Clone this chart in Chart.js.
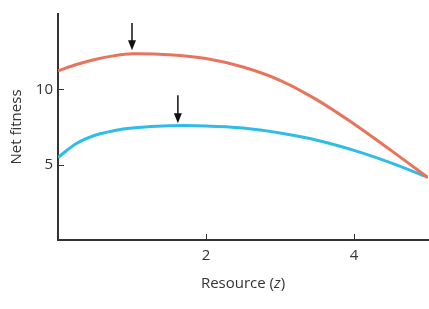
<!DOCTYPE html>
<html>
<head>
<meta charset="utf-8">
<script src="https://cdn.jsdelivr.net/npm/chart.js@4"></script>
<style>
  body { margin: 0; background: #fff; }
  #wrap { width: 429px; height: 309px; }
</style>
</head>
<body>
<div id="wrap"><canvas id="fitness-chart"></canvas></div>
<script>
// Data
const resource = [0, 0.25, 0.5, 0.75, 1, 1.5, 2, 2.5, 3, 3.5, 4, 4.5, 5];
const fitnessHigh = [11.23, 11.65, 11.98, 12.22, 12.36, 12.3, 12.05, 11.48, 10.6, 9.3, 7.7, 5.95, 4.14];
const fitnessLow = [5.48, 6.4, 6.95, 7.25, 7.43, 7.58, 7.57, 7.43, 7.1, 6.62, 5.95, 5.12, 4.16];
const xTicks = [2, 4];
const yTicks = [5, 10];
// Arrows marking the optimum of each curve
const arrowX = [1.0, 1.62];
const arrowTop = [14.4, 9.6];
const arrowTip = [12.6, 7.75];

const ink = '#333333';
const font = '"Open Sans", "Lato", sans-serif';

function toPoints(ys) {
    return resource.map((x, i) => ({ x: x, y: ys[i] }));
}

// Inside ticks, arrows and the x axis title
const extras = {
    id: 'extras',
    afterDraw(c) {
        const ctx = c.ctx;
        const xs = c.scales.x, ys = c.scales.y;
        const area = c.chartArea;
        ctx.save();
        ctx.strokeStyle = ink;
        ctx.lineWidth = 1;
        xTicks.forEach(v => {
            const px = Math.round(xs.getPixelForValue(v)) + 0.5;
            ctx.beginPath();
            ctx.moveTo(px, area.bottom);
            ctx.lineTo(px, area.bottom - 6);
            ctx.stroke();
        });
        yTicks.forEach(v => {
            const py = Math.round(ys.getPixelForValue(v)) + 0.5;
            ctx.beginPath();
            ctx.moveTo(area.left, py);
            ctx.lineTo(area.left + 6, py);
            ctx.stroke();
        });

        // arrows
        ctx.fillStyle = '#111';
        ctx.strokeStyle = '#111';
        ctx.lineWidth = 1.5;
        arrowX.forEach((v, i) => {
            const px = xs.getPixelForValue(v);
            const top = ys.getPixelForValue(arrowTop[i]);
            const tip = ys.getPixelForValue(arrowTip[i]);
            ctx.beginPath();
            ctx.moveTo(px, top);
            ctx.lineTo(px, tip - 8);
            ctx.stroke();
            ctx.beginPath();
            ctx.moveTo(px - 4, tip - 10);
            ctx.lineTo(px + 4, tip - 10);
            ctx.lineTo(px, tip);
            ctx.closePath();
            ctx.fill();
        });

        // x title with italic z
        const parts = [['Resource (', 'normal'], ['z', 'italic'], [')', 'normal']];
        let total = 0;
        parts.forEach(p => {
            ctx.font = p[1] + ' 15px ' + font;
            total += ctx.measureText(p[0]).width;
        });
        let x = (area.left + area.right) / 2 - total / 2;
        ctx.fillStyle = ink;
        ctx.textBaseline = 'middle';
        parts.forEach(p => {
            ctx.font = p[1] + ' 15px ' + font;
            ctx.fillText(p[0], x, 284);
            x += ctx.measureText(p[0]).width;
        });
        ctx.restore();
    }
};

new Chart(document.getElementById('fitness-chart').getContext('2d'), {
    type: 'line',
    data: {
        datasets: [{
            data: toPoints(fitnessHigh),
            borderColor: '#E8755B',
            borderWidth: 3,
            pointRadius: 0,
            tension: 0.35
        }, {
            data: toPoints(fitnessLow),
            borderColor: '#2FBDE8',
            borderWidth: 3,
            pointRadius: 0,
            tension: 0.35
        }]
    },
    options: {
        responsive: true,
        maintainAspectRatio: false,
        animation: false,
        layout: { padding: { top: 12, right: 1, left: 0, bottom: 0 } },
        plugins: {
            legend: { display: false },
            tooltip: { enabled: false }
        },
        scales: {
            x: {
                type: 'linear',
                min: 0,
                max: 5,
                afterBuildTicks: s => { s.ticks = xTicks.map(v => ({ value: v })); },
                afterFit: s => { s.height = 69; },
                grid: { display: false, drawTicks: false },
                border: { color: ink, width: 2 },
                ticks: { color: ink, font: { family: font, size: 15 }, padding: 7, maxRotation: 0 }
            },
            y: {
                min: 0,
                max: 15,
                afterBuildTicks: s => { s.ticks = yTicks.map(v => ({ value: v })); },
                afterFit: s => { s.width = 58; },
                grid: { display: false, drawTicks: false },
                border: { color: ink, width: 2 },
                ticks: { color: ink, font: { family: font, size: 15 }, padding: 5 },
                title: {
                    display: true,
                    text: 'Net fitness',
                    color: ink,
                    font: { family: font, size: 15 },
                    padding: { top: 8, bottom: 0 }
                }
            }
        }
    },
    plugins: [extras]
});
</script>
</body>
</html>
